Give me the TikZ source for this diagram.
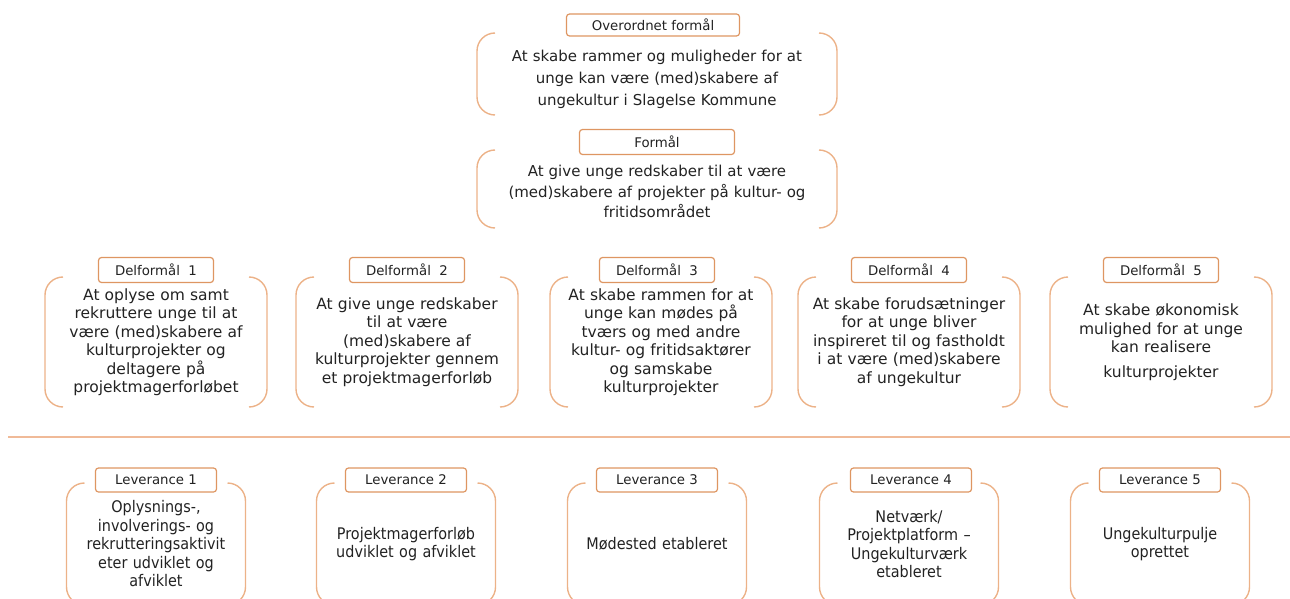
\documentclass[tikz,border=0pt]{standalone}
\usepackage{fontspec}
\setmainfont{DejaVu Sans}
\newfontfamily\levfont[FakeStretch=0.9]{DejaVu Sans}
\usepackage{xcolor}
\usetikzlibrary{positioning}
\usetikzlibrary{calc}

\definecolor{tagorange}{RGB}{222,150,98}
\definecolor{brackorange}{RGB}{236,178,136}
\definecolor{ruleorange}{RGB}{240,186,152}
\definecolor{inkgray}{RGB}{34,34,34}

\begin{document}
\begin{tikzpicture}[
  x=1pt, y=-1pt,
  every node/.style={outer sep=0pt, text=inkgray},
  body/.style={inner sep=0pt, align=center},
  topbody/.style={body, minimum width=360pt, text width=340pt, font=\fontsize{15}{22}\selectfont},
  subbody/.style={body, minimum width=222pt, minimum height=130pt, text width=215pt, font=\fontsize{15.5}{18.5}\selectfont},
  levbody/.style={body, minimum width=179pt, minimum height=122pt, text width=175pt, font=\levfont\fontsize{16}{18.5}\selectfont},
  tag/.style={draw=tagorange, line width=1.2pt, rounded corners=3pt, fill=white, inner sep=0pt,
              minimum height=24pt, font=\fontsize{13.3}{15}\selectfont},
  bracket/.style={draw=brackorange, line width=1.4pt, rounded corners=18pt},
  rule/.style={draw=ruleorange, line width=2pt}
]
\useasboundingbox (0,0) rectangle (1290,599);
\clip (0,0) rectangle (1290,599);

% Overall purpose
\node[topbody, minimum height=82pt] (top) at (657,74) {\rule{0pt}{23pt}At skabe rammer og muligheder for at\\unge kan være (med)skabere af\\ungekultur i Slagelse Kommune};
\node[tag, minimum width=173pt, minimum height=22pt] (topTag) at ([xshift=-4pt, yshift=8pt]top.north) {Overordnet formål};

% Purpose
\node[topbody, minimum height=78pt, font=\fontsize{15}{20.5}\selectfont] (aim) at (657,189) {\rule{0pt}{17pt}At give unge redskaber til at være\\(med)skabere af projekter på kultur- og\\fritidsområdet};
\node[tag, minimum width=155pt, minimum height=25pt] (aimTag) at ([yshift=8pt]aim.north) {Formål};

% Sub-purposes
\node[subbody] (sub1) at (156,342) {At oplyse om samt\\rekruttere unge til at\\være (med)skabere af\\kulturprojekter og\\deltagere på\\projektmagerforløbet};
\node[subbody] (sub2) at (407,342) {At give unge redskaber\\til at være\\(med)skabere af\\kulturprojekter gennem\\et projektmagerforløb};
\node[subbody] (sub3) at (661,342) {At skabe rammen for at\\unge kan mødes på\\tværs og med andre\\kultur- og fritidsaktører\\og samskabe\\kulturprojekter};
\node[subbody] (sub4) at (909,342) {At skabe forudsætninger\\for at unge bliver\\inspireret til og fastholdt\\i at være (med)skabere\\af ungekultur};
\node[subbody] (sub5) at (1161,342) {At skabe økonomisk\\mulighed for at unge\\kan realisere\\[6pt]kulturprojekter};

\node[tag, minimum width=115pt, minimum height=25pt] (sub1Tag) at ([yshift=7pt]sub1.north) {Delformål\ \ 1};
\node[tag, minimum width=115pt, minimum height=25pt] (sub2Tag) at ([yshift=7pt]sub2.north) {Delformål\ \ 2};
\node[tag, minimum width=115pt, minimum height=25pt] (sub3Tag) at ([xshift=-4pt, yshift=7pt]sub3.north) {Delformål\ \ 3};
\node[tag, minimum width=115pt, minimum height=25pt] (sub4Tag) at ([yshift=7pt]sub4.north) {Delformål\ \ 4};
\node[tag, minimum width=115pt, minimum height=25pt] (sub5Tag) at ([yshift=7pt]sub5.north) {Delformål\ \ 5};

% Divider
\coordinate (ruleL) at (8,437);
\coordinate (ruleR) at (1290,437);
\draw[rule] (ruleL) -- (ruleR);

% Deliverables
\node[levbody] (lev1) at (156,544) {Oplysnings-,\\involverings- og\\rekrutteringsaktivit\\eter udviklet og\\afviklet};
\node[levbody] (lev2) at (406,544) {Projektmagerforløb\\udviklet og afviklet};
\node[levbody] (lev3) at (657,544) {Mødested etableret};
\node[levbody] (lev4) at (909,544) {Netværk/\\Projektplatform –\\Ungekulturværk\\etableret};
\node[levbody] (lev5) at (1160,544) {Ungekulturpulje\\oprettet};

\node[tag, minimum width=121pt] (lev1Tag) at ([yshift=3pt]lev1.north) {Leverance 1};
\node[tag, minimum width=121pt] (lev2Tag) at ([yshift=3pt]lev2.north) {Leverance 2};
\node[tag, minimum width=121pt] (lev3Tag) at ([yshift=3pt]lev3.north) {Leverance 3};
\node[tag, minimum width=121pt] (lev4Tag) at ([xshift=2pt, yshift=3pt]lev4.north) {Leverance 4};
\node[tag, minimum width=121pt] (lev5Tag) at ([yshift=3pt]lev5.north) {Leverance 5};

% Brackets round the texts
\foreach \b in {top,aim,sub1,sub2,sub3,sub4,sub5,lev1,lev2,lev3,lev4,lev5} {
  \draw[bracket] ([xshift=18pt]\b.north west) -- (\b.north west) -- (\b.south west) -- ([xshift=18pt]\b.south west);
  \draw[bracket] ([xshift=-18pt]\b.north east) -- (\b.north east) -- (\b.south east) -- ([xshift=-18pt]\b.south east);
}

\end{tikzpicture}
\end{document}
